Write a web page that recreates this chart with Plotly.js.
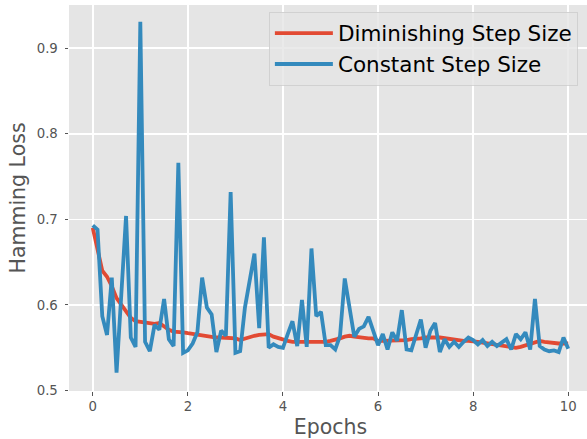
<!DOCTYPE html>
<html>
<head>
<meta charset="utf-8">
<script src="https://cdn.plot.ly/plotly-3.0.1.min.js"></script>
<style>
html,body{margin:0;padding:0;overflow:hidden;background:#fff;}
#chart{width:592px;height:439px;}
</style>
</head>
<body>
<div id="chart"></div>
<script>
const epochs = [0,0.1,0.2,0.3,0.4,0.5,0.6,0.7,0.8,0.9,1,1.1,1.2,1.3,1.4,1.5,1.6,1.7,1.8,1.9,2,2.1,2.2,2.3,2.4,2.5,2.6,2.7,2.8,2.9,3,3.1,3.2,3.3,3.4,3.5,3.6,3.7,3.8,3.9,4,4.1,4.2,4.3,4.4,4.5,4.6,4.7,4.8,4.9,5,5.1,5.2,5.3,5.4,5.5,5.6,5.7,5.8,5.9,6,6.1,6.2,6.3,6.4,6.5,6.6,6.7,6.8,6.9,7,7.1,7.2,7.3,7.4,7.5,7.6,7.7,7.8,7.9,8,8.1,8.2,8.3,8.4,8.5,8.6,8.7,8.8,8.9,9,9.1,9.2,9.3,9.4,9.5,9.6,9.7,9.8,9.9,10];

const diminishing = [
0.690,0.667,0.640,0.633,0.622,0.608,0.600,0.592,0.585,0.581,
0.580,0.579,0.578,0.578,0.579,0.575,0.571,0.569,0.569,0.568,
0.567,0.566,0.565,0.565,0.564,0.563,0.562,0.562,0.562,0.561,
0.561,0.559,0.561,0.563,0.564,0.565,0.566,0.566,0.563,0.561,
0.559,0.558,0.557,0.557,0.556,0.556,0.556,0.556,0.557,0.557,
0.558,0.559,0.561,0.563,0.564,0.563,0.562,0.562,0.561,0.561,
0.558,0.558,0.558,0.558,0.558,0.558,0.559,0.560,0.560,0.561,
0.562,0.5625,0.562,0.562,0.561,0.560,0.559,0.558,0.558,0.558,
0.558,0.557,0.556,0.555,0.554,0.553,0.552,0.551,0.550,0.550,
0.551,0.553,0.555,0.557,0.558,0.557,0.556,0.555,0.555,0.555,
0.555];

const constant = [
0.693,0.688,0.587,0.565,0.632,0.521,0.612,0.704,0.562,0.551,
0.931,0.557,0.546,0.577,0.571,0.607,0.560,0.552,0.766,0.544,
0.547,0.555,0.568,0.632,0.597,0.589,0.545,0.570,0.564,0.732,
0.544,0.546,0.597,0.628,0.660,0.573,0.679,0.550,0.554,0.551,
0.550,0.566,0.581,0.552,0.606,0.551,0.666,0.587,0.592,0.553,
0.553,0.548,0.564,0.631,0.598,0.563,0.572,0.575,0.586,0.570,
0.553,0.566,0.548,0.568,0.558,0.594,0.548,0.547,0.565,0.583,
0.550,0.570,0.579,0.545,0.560,0.551,0.557,0.551,0.557,0.562,
0.559,0.554,0.559,0.552,0.557,0.552,0.556,0.560,0.548,0.566,
0.560,0.568,0.548,0.607,0.552,0.548,0.546,0.547,0.545,0.562,
0.549];

const seriesNames = ["Diminishing Step Size", "Constant Step Size"];
const xTicks = [0,2,4,6,8,10];
const yTicks = [0.5,0.6,0.7,0.8,0.9];

const font = "DejaVu Sans, sans-serif";
const traces = [
  {x: epochs, y: diminishing, name: seriesNames[0], type: "scatter", mode: "lines",
   line: {color: "#E24A33", width: 3.8}},
  {x: epochs, y: constant, name: seriesNames[1], type: "scatter", mode: "lines",
   line: {color: "#348ABD", width: 3.8}}
];

const layout = {
  width: 592, height: 439,
  margin: {l: 69, r: 0, t: 5, b: 48, pad: 0},
  paper_bgcolor: "#ffffff",
  plot_bgcolor: "#E5E5E5",
  font: {family: font, color: "#555555"},
  showlegend: true,
  legend: {
    x: 0.973, xanchor: "right", y: 0.983, yanchor: "top",
    bgcolor: "rgba(229,229,229,0.8)", bordercolor: "rgba(204,204,204,0.8)", borderwidth: 1,
    font: {family: font, size: 21.5, color: "#000000"},
    itemwidth: 58, tracegroupgap: 0
  },
  xaxis: {
    range: [-0.5, 10.5], tickvals: xTicks, ticktext: xTicks.map(String),
    showgrid: true, gridcolor: "#ffffff", gridwidth: 1.5, zeroline: false, showline: false,
    ticks: "outside", ticklen: 3.5, tickwidth: 1, tickcolor: "#555555",
    tickfont: {family: font, size: 13.3, color: "#555555"},
    title: {text: "Epochs", font: {family: font, size: 20.5, color: "#555555"}, standoff: 9}
  },
  yaxis: {
    range: [0.4995, 0.9505], tickvals: yTicks, ticktext: yTicks.map(v => v.toFixed(1)),
    showgrid: true, gridcolor: "#ffffff", gridwidth: 1.5, zeroline: false, showline: false,
    ticks: "outside", ticklen: 3.5, tickwidth: 1, tickcolor: "#555555",
    ticklabelstandoff: 4,
    tickfont: {family: font, size: 13.3, color: "#555555"},
    title: {text: "Hamming Loss", font: {family: font, size: 20.5, color: "#555555"}, standoff: 5}
  }
};

Plotly.newPlot("chart", traces, layout, {displayModeBar: false, staticPlot: true});
</script>
</body>
</html>
